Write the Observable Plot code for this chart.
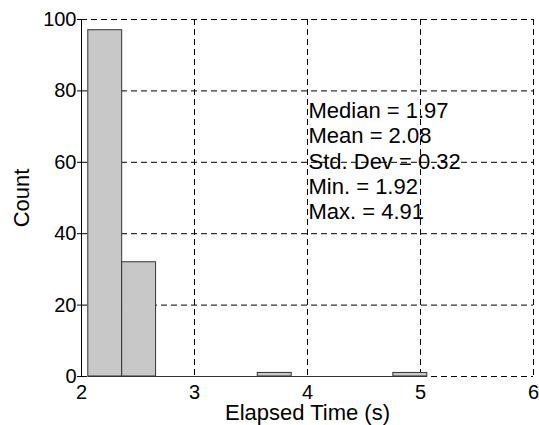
<!DOCTYPE html>
<html>
<head>
<meta charset="utf-8">
<script src="https://cdn.jsdelivr.net/npm/d3@7"></script>
<script src="https://cdn.jsdelivr.net/npm/@observablehq/plot@0.6"></script>
<style>
html, body { margin: 0; padding: 0; background: #fff; }
</style>
</head>
<body>
<div id="chart"></div>
<script>
// Histogram bin edges (s) and counts
const binEdges = [2.06, 2.36, 2.66, 2.96, 3.26, 3.56, 3.86, 4.16, 4.46, 4.76, 5.06];
const counts = [97, 32, 0, 0, 0, 1, 0, 0, 0, 1];
const xTicks = [2, 3, 4, 5, 6];
const yTicks = [0, 20, 40, 60, 80, 100];
const statLabels = ["Median", "Mean", "Std. Dev", "Min.", "Max."];
const statValues = ["1.97", "2.08", "0.32", "1.92", "4.91"];
const statPos = {x: 4, y: 60.5};

const bins = counts.map((c, i) => ({x1: binEdges[i], x2: binEdges[i + 1], count: c}));
const statText = statLabels.map((l, i) => `${l} = ${statValues[i]}`).join("\n");

const dash = "6,4";
const chart = Plot.plot({
  width: 539,
  height: 425,
  marginLeft: 81,
  marginRight: 6,
  marginTop: 19,
  marginBottom: 49,
  style: {fontFamily: "'Liberation Sans', Arial, sans-serif", fontSize: "20px", color: "black", background: "white"},
  x: {domain: [2, 6]},
  y: {domain: [0, 100]},
  marks: [
    Plot.ruleX(xTicks.slice(1), {stroke: "black", strokeDasharray: dash, strokeWidth: 1}),
    Plot.ruleY(yTicks, {stroke: "black", strokeDasharray: dash, strokeWidth: 1}),
    Plot.rectY(bins, {x1: "x1", x2: "x2", y: "count", fill: "#c8c8c8", stroke: "#333", strokeWidth: 1}),
    Plot.ruleY([0], {x1: binEdges[0], x2: binEdges[binEdges.length - 1], stroke: "#333", strokeWidth: 1}),
    Plot.ruleX([xTicks[0]], {stroke: "black", strokeWidth: 1}),
    Plot.axisX(xTicks, {tickSize: 0, tickPadding: 8, fontSize: 20, tickFormat: d3.format("d"), label: null}),
    Plot.axisX({ticks: [], tickSize: 0, fontSize: 22, label: "Elapsed Time (s)", labelAnchor: "center", labelArrow: "none", labelOffset: 43}),
    Plot.axisY(yTicks, {tickSize: 4, tickPadding: 1, fontSize: 20, tickFormat: d3.format("d"), label: null}),
    Plot.axisY({ticks: [], tickSize: 0, fontSize: 22, label: "Count", labelAnchor: "center", labelArrow: "none", labelOffset: 68}),
    Plot.text([statText], {x: () => statPos.x, y: () => statPos.y, text: d => d, textAnchor: "start", lineHeight: 1.14, fontSize: 22, dx: 1, fill: "black"})
  ]
});
document.getElementById("chart").appendChild(chart);
</script>
</body>
</html>
